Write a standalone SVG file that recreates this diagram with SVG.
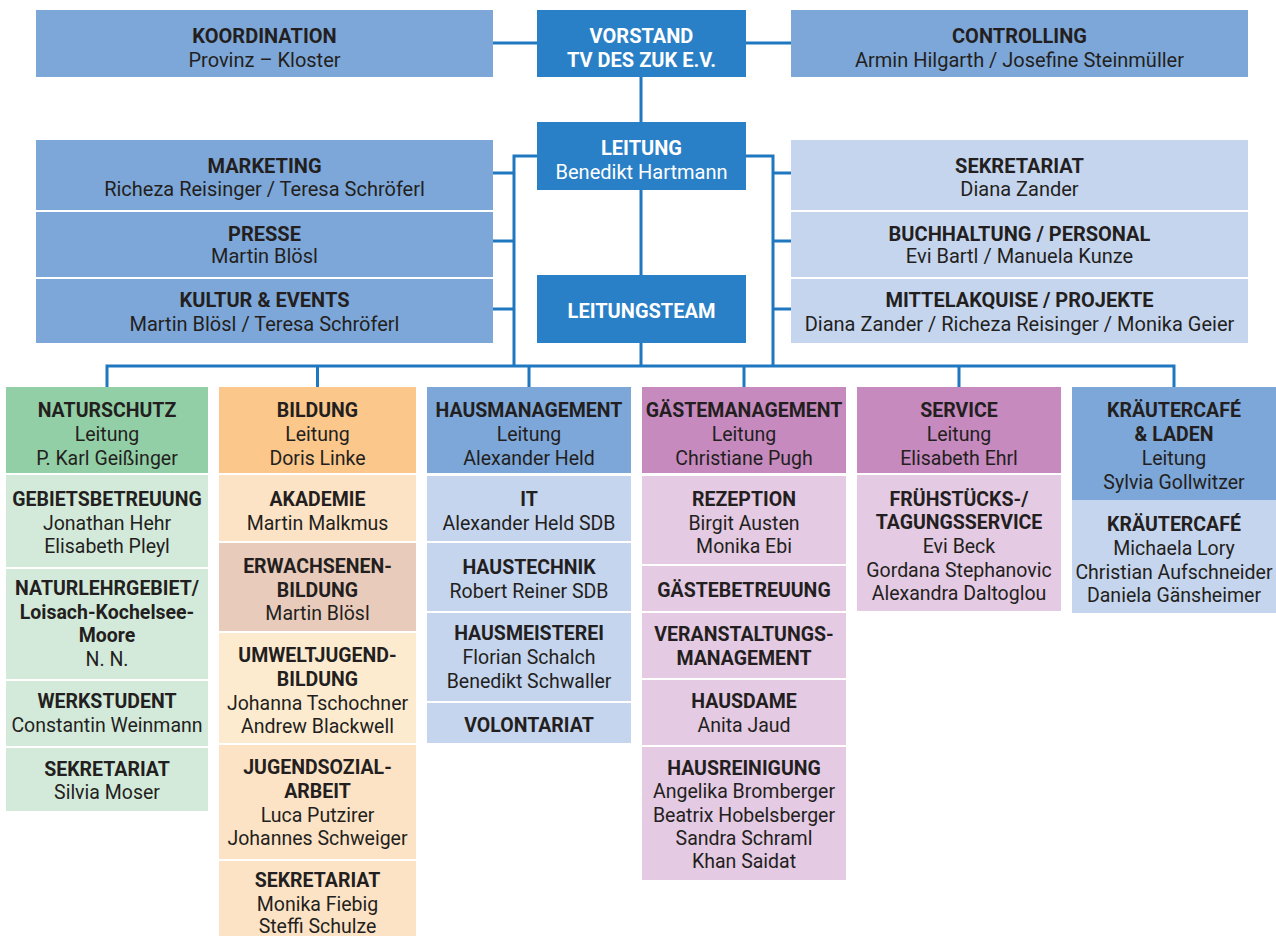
<svg xmlns="http://www.w3.org/2000/svg" width="1276" height="936" viewBox="0 0 1276 936">
<style>
text{font-family:Roboto,"Liberation Sans",sans-serif;font-size:19.5px;fill:#231f20;text-anchor:middle}
.top text{font-size:20px}
.b{font-weight:700}
.w{fill:#ffffff}
.dk{fill:#2a80c6}
.md{fill:#7da7d9}
.lt{fill:#c6d5ee}
.gh{fill:#93cfa6}
.gl{fill:#d3eadb}
.oh{fill:#fbc78a}
.ol{fill:#fde3c6}
.ob{fill:#e9cbbb}
.oy{fill:#fdebcf}
.ph{fill:#c68abf}
.pl{fill:#e4cae3}
.cn{fill:none;stroke:#1f78bf;stroke-width:3}
</style>
<rect width="1276" height="936" fill="#ffffff"/>
<g id="connectors">
<path class="cn" d="M493 43H537M746 43H791M641 77V122M641 190V275M641 343V366"/>
<path class="cn" d="M537 156H514V366M493 173H514M493 241H514M493 309H514"/>
<path class="cn" d="M746 156H773V366M773 173H791M773 241H791M773 309H791"/>
<path class="cn" d="M107 366H1175M107 364.5V388M317.5 366V388M529 366V388M744 366V388M959 366V388M1174 364.5V388"/>
</g>
<g class="top">
<g id="koordination"><rect class="md" x="36" y="10" width="457" height="67"/><text class="b" x="264.5" y="43">KOORDINATION</text><text x="264.5" y="67">Provinz – Kloster</text></g>
<g id="vorstand"><rect class="dk" x="537" y="10" width="209" height="67"/><text class="b w" x="641.5" y="43">VORSTAND</text><text class="b w" x="641.5" y="67">TV DES ZUK E.V.</text></g>
<g id="controlling"><rect class="md" x="791" y="10" width="457" height="67"/><text class="b" x="1019.5" y="43">CONTROLLING</text><text x="1019.5" y="67">Armin Hilgarth / Josefine Steinmüller</text></g>
<g id="leitung"><rect class="dk" x="537" y="122" width="209" height="68"/><text class="b w" x="641.5" y="155">LEITUNG</text><text class="w" x="641.5" y="179">Benedikt Hartmann</text></g>
<g id="leitungsteam"><rect class="dk" x="537" y="275" width="209" height="68"/><text class="b w" x="641.5" y="318">LEITUNGSTEAM</text></g>
<g id="marketing"><rect class="md" x="36" y="140" width="457" height="70"/><text class="b" x="264.5" y="173">MARKETING</text><text x="264.5" y="196">Richeza Reisinger / Teresa Schröferl</text></g>
<g id="presse"><rect class="md" x="36" y="212" width="457" height="65"/><text class="b" x="264.5" y="241">PRESSE</text><text x="264.5" y="263">Martin Blösl</text></g>
<g id="kultur"><rect class="md" x="36" y="279" width="457" height="64"/><text class="b" x="264.5" y="307">KULTUR &amp; EVENTS</text><text x="264.5" y="331">Martin Blösl / Teresa Schröferl</text></g>
<g id="sekretariat-top"><rect class="lt" x="791" y="140" width="457" height="70"/><text class="b" x="1019.5" y="173">SEKRETARIAT</text><text x="1019.5" y="196">Diana Zander</text></g>
<g id="buchhaltung"><rect class="lt" x="791" y="212" width="457" height="65"/><text class="b" x="1019.5" y="241">BUCHHALTUNG / PERSONAL</text><text x="1019.5" y="263">Evi Bartl / Manuela Kunze</text></g>
<g id="mittelakquise"><rect class="lt" x="791" y="279" width="457" height="64"/><text class="b" x="1019.5" y="307">MITTELAKQUISE / PROJEKTE</text><text x="1019.5" y="331">Diana Zander / Richeza Reisinger / Monika Geier</text></g>
</g>

<g id="naturschutz"><rect class="gh" x="6" y="387" width="202" height="86"/><text class="b" x="107" y="417">NATURSCHUTZ</text><text x="107" y="441">Leitung</text><text x="107" y="465">P. Karl Geißinger</text></g>
<g id="gebietsbetreuung"><rect class="gl" x="6" y="475" width="202" height="92"/><text class="b" x="107" y="506">GEBIETSBETREUUNG</text><text x="107" y="530">Jonathan Hehr</text><text x="107" y="553">Elisabeth Pleyl</text></g>
<g id="naturlehrgebiet"><rect class="gl" x="6" y="569" width="202" height="110"/><text class="b" x="107" y="595">NATURLEHRGEBIET/</text><text class="b" x="107" y="619">Loisach-Kochelsee-</text><text class="b" x="107" y="642">Moore</text><text x="107" y="666">N. N.</text></g>
<g id="werkstudent"><rect class="gl" x="6" y="681" width="202" height="65"/><text class="b" x="107" y="708">WERKSTUDENT</text><text x="107" y="732">Constantin Weinmann</text></g>
<g id="sekretariat-natur"><rect class="gl" x="6" y="748" width="202" height="63"/><text class="b" x="107" y="776">SEKRETARIAT</text><text x="107" y="799">Silvia Moser</text></g>

<g id="bildung"><rect class="oh" x="219" y="387" width="197" height="86"/><text class="b" x="317.5" y="417">BILDUNG</text><text x="317.5" y="441">Leitung</text><text x="317.5" y="465">Doris Linke</text></g>
<g id="akademie"><rect class="ol" x="219" y="475" width="197" height="66"/><text class="b" x="317.5" y="506">AKADEMIE</text><text x="317.5" y="530">Martin Malkmus</text></g>
<g id="erwachsenenbildung"><rect class="ob" x="219" y="543" width="197" height="88"/><text class="b" x="317.5" y="573">ERWACHSENEN-</text><text class="b" x="317.5" y="597">BILDUNG</text><text x="317.5" y="620">Martin Blösl</text></g>
<g id="umweltjugendbildung"><rect class="oy" x="219" y="633" width="197" height="110"/><text class="b" x="317.5" y="662">UMWELTJUGEND-</text><text class="b" x="317.5" y="686">BILDUNG</text><text x="317.5" y="710">Johanna Tschochner</text><text x="317.5" y="733">Andrew Blackwell</text></g>
<g id="jugendsozialarbeit"><rect class="ol" x="219" y="745" width="197" height="114"/><text class="b" x="317.5" y="774">JUGENDSOZIAL-</text><text class="b" x="317.5" y="798">ARBEIT</text><text x="317.5" y="822">Luca Putzirer</text><text x="317.5" y="845">Johannes Schweiger</text></g>
<g id="sekretariat-bildung"><rect class="ol" x="219" y="861" width="197" height="75"/><text class="b" x="317.5" y="887">SEKRETARIAT</text><text x="317.5" y="911">Monika Fiebig</text><text x="317.5" y="933">Steffi Schulze</text></g>

<g id="hausmanagement"><rect class="md" x="427" y="387" width="204" height="86"/><text class="b" x="529" y="417">HAUSMANAGEMENT</text><text x="529" y="441">Leitung</text><text x="529" y="465">Alexander Held</text></g>
<g id="it"><rect class="lt" x="427" y="476" width="204" height="65"/><text class="b" x="529" y="506">IT</text><text x="529" y="530">Alexander Held SDB</text></g>
<g id="haustechnik"><rect class="lt" x="427" y="543" width="204" height="68"/><text class="b" x="529" y="574">HAUSTECHNIK</text><text x="529" y="598">Robert Reiner SDB</text></g>
<g id="hausmeisterei"><rect class="lt" x="427" y="613" width="204" height="88"/><text class="b" x="529" y="640">HAUSMEISTEREI</text><text x="529" y="664">Florian Schalch</text><text x="529" y="688">Benedikt Schwaller</text></g>
<g id="volontariat"><rect class="lt" x="427" y="703" width="204" height="40"/><text class="b" x="529" y="732">VOLONTARIAT</text></g>

<g id="gaestemanagement"><rect class="ph" x="642" y="387" width="204" height="86"/><text class="b" x="744" y="417">GÄSTEMANAGEMENT</text><text x="744" y="441">Leitung</text><text x="744" y="465">Christiane Pugh</text></g>
<g id="rezeption"><rect class="pl" x="642" y="476" width="204" height="88"/><text class="b" x="744" y="506">REZEPTION</text><text x="744" y="530">Birgit Austen</text><text x="744" y="553">Monika Ebi</text></g>
<g id="gaestebetreuung"><rect class="pl" x="642" y="566" width="204" height="45"/><text class="b" x="744" y="597">GÄSTEBETREUUNG</text></g>
<g id="veranstaltungsmanagement"><rect class="pl" x="642" y="613" width="204" height="65"/><text class="b" x="744" y="641">VERANSTALTUNGS-</text><text class="b" x="744" y="665">MANAGEMENT</text></g>
<g id="hausdame"><rect class="pl" x="642" y="680" width="204" height="65"/><text class="b" x="744" y="708">HAUSDAME</text><text x="744" y="732">Anita Jaud</text></g>
<g id="hausreinigung"><rect class="pl" x="642" y="747" width="204" height="133"/><text class="b" x="744" y="775">HAUSREINIGUNG</text><text x="744" y="798">Angelika Bromberger</text><text x="744" y="822">Beatrix Hobelsberger</text><text x="744" y="845">Sandra Schraml</text><text x="744" y="868">Khan Saidat</text></g>

<g id="service"><rect class="ph" x="857" y="387" width="204" height="86"/><text class="b" x="959" y="417">SERVICE</text><text x="959" y="441">Leitung</text><text x="959" y="465">Elisabeth Ehrl</text></g>
<g id="fruehstuecksservice"><rect class="pl" x="857" y="475" width="204" height="136"/><text class="b" x="959" y="506">FRÜHSTÜCKS-/</text><text class="b" x="959" y="529">TAGUNGSSERVICE</text><text x="959" y="553">Evi Beck</text><text x="959" y="577">Gordana Stephanovic</text><text x="959" y="600">Alexandra Daltoglou</text></g>

<g id="kraeutercafe-laden"><rect class="md" x="1072" y="387" width="204" height="113"/><text class="b" x="1174" y="417">KRÄUTERCAFÉ</text><text class="b" x="1174" y="441">&amp; LADEN</text><text x="1174" y="465">Leitung</text><text x="1174" y="489">Sylvia Gollwitzer</text></g>
<g id="kraeutercafe"><rect class="lt" x="1072" y="500" width="204" height="113"/><text class="b" x="1174" y="531">KRÄUTERCAFÉ</text><text x="1174" y="555">Michaela Lory</text><text x="1174" y="579">Christian Aufschneider</text><text x="1174" y="602">Daniela Gänsheimer</text></g>
</svg>
